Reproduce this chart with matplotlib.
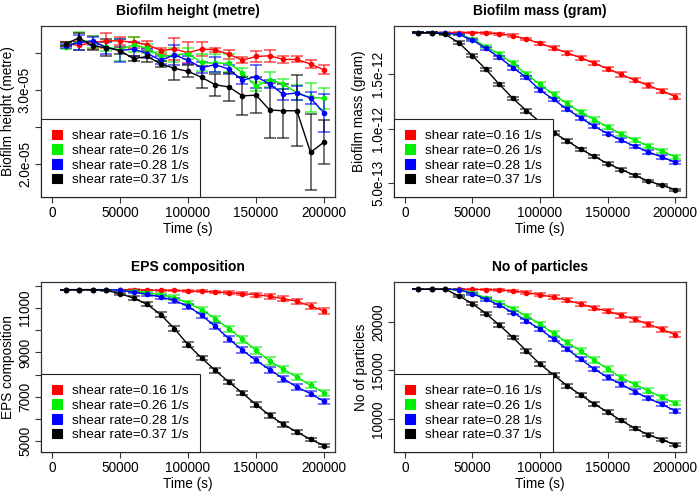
import matplotlib
matplotlib.use("Agg")
import matplotlib.pyplot as plt
from matplotlib.patches import Patch

plt.rcParams['font.family'] = ['Liberation Sans', 'DejaVu Sans']

time = [10000, 20000, 30000, 40000, 50000, 60000, 70000, 80000, 90000, 100000,
        110000, 120000, 130000, 140000, 150000, 160000, 170000, 180000, 190000, 200000]

labels = ['shear rate=0.16 1/s', 'shear rate=0.26 1/s',
          'shear rate=0.28 1/s', 'shear rate=0.37 1/s']
colors = ['#ff0000', '#00ee00', '#0000ff', '#000000']

# biofilm height, in units of 1e-05 metre
height_016 = [3.62, 3.60, 3.64, 3.66, 3.66, 3.64, 3.61, 3.53, 3.55, 3.50, 3.55, 3.54, 3.48, 3.40, 3.45, 3.46, 3.41, 3.41, 3.35, 3.27]
height_026 = [3.58, 3.66, 3.65, 3.58, 3.54, 3.61, 3.56, 3.45, 3.47, 3.49, 3.37, 3.36, 3.36, 3.23, 3.05, 3.14, 3.08, 2.96, 2.90, 2.89]
height_028 = [3.59, 3.64, 3.66, 3.57, 3.53, 3.55, 3.49, 3.40, 3.47, 3.40, 3.30, 3.34, 3.28, 3.13, 3.18, 3.08, 2.94, 2.96, 2.89, 2.69]
height_037 = [3.62, 3.70, 3.59, 3.57, 3.53, 3.42, 3.45, 3.35, 3.29, 3.25, 3.17, 3.07, 3.04, 2.92, 2.93, 2.73, 2.72, 2.72, 2.16, 2.30]
height_err_016 = [0.03, 0.06, 0.09, 0.10, 0.05, 0.07, 0.05, 0.04, 0.15, 0.14, 0.10, 0.03, 0.06, 0.04, 0.07, 0.08, 0.05, 0.04, 0.05, 0.06]
height_err_026 = [0.03, 0.12, 0.08, 0.06, 0.15, 0.10, 0.06, 0.06, 0.10, 0.07, 0.12, 0.12, 0.12, 0.06, 0.06, 0.10, 0.07, 0.10, 0.19, 0.14]
height_err_028 = [0.03, 0.10, 0.05, 0.08, 0.15, 0.10, 0.06, 0.05, 0.13, 0.05, 0.07, 0.10, 0.06, 0.05, 0.15, 0.06, 0.07, 0.09, 0.08, 0.25]
height_err_037 = [0.03, 0.06, 0.05, 0.12, 0.05, 0.03, 0.07, 0.04, 0.16, 0.08, 0.15, 0.15, 0.19, 0.26, 0.24, 0.37, 0.36, 0.48, 0.51, 0.30]

# biofilm mass, in units of 1e-12 gram
mass_016 = [1.880, 1.880, 1.880, 1.880, 1.880, 1.880, 1.871, 1.853, 1.822, 1.782, 1.739, 1.696, 1.650, 1.601, 1.549, 1.497, 1.445, 1.396, 1.347, 1.294]
mass_026 = [1.880, 1.880, 1.877, 1.865, 1.822, 1.752, 1.684, 1.598, 1.500, 1.405, 1.313, 1.230, 1.150, 1.083, 1.015, 0.948, 0.893, 0.840, 0.791, 0.742]
mass_028 = [1.880, 1.880, 1.877, 1.865, 1.813, 1.736, 1.653, 1.558, 1.469, 1.353, 1.267, 1.178, 1.098, 1.021, 0.954, 0.893, 0.837, 0.785, 0.739, 0.690]
mass_037 = [1.880, 1.880, 1.865, 1.788, 1.669, 1.543, 1.405, 1.276, 1.163, 1.061, 0.963, 0.887, 0.810, 0.745, 0.678, 0.623, 0.571, 0.518, 0.479, 0.439]
mass_err_016 = [0.003, 0.003, 0.003, 0.003, 0.006, 0.008, 0.010, 0.012, 0.013, 0.015, 0.016, 0.016, 0.017, 0.018, 0.018, 0.019, 0.019, 0.020, 0.020, 0.020]
mass_err_026 = [0.003, 0.003, 0.003, 0.006, 0.012, 0.015, 0.017, 0.018, 0.019, 0.020, 0.020, 0.020, 0.020, 0.020, 0.020, 0.020, 0.019, 0.019, 0.018, 0.018]
mass_err_028 = [0.003, 0.003, 0.003, 0.006, 0.012, 0.015, 0.016, 0.017, 0.018, 0.018, 0.018, 0.018, 0.018, 0.017, 0.017, 0.017, 0.016, 0.016, 0.015, 0.015]
mass_err_037 = [0.003, 0.003, 0.006, 0.012, 0.015, 0.016, 0.017, 0.018, 0.018, 0.018, 0.017, 0.016, 0.015, 0.014, 0.013, 0.012, 0.012, 0.011, 0.011, 0.010]

# EPS composition
eps_016 = [11825, 11825, 11825, 11825, 11825, 11825, 11810, 11795, 11795, 11765, 11750, 11720, 11690, 11645, 11600, 11525, 11420, 11300, 11090, 10865]
eps_026 = [11825, 11825, 11825, 11825, 11795, 11765, 11690, 11600, 11465, 11225, 10925, 10520, 10070, 9590, 9095, 8615, 8240, 7895, 7520, 7175]
eps_028 = [11825, 11825, 11825, 11825, 11795, 11720, 11615, 11495, 11345, 11075, 10670, 10175, 9620, 9095, 8645, 8225, 7820, 7445, 7145, 6800]
eps_037 = [11825, 11825, 11825, 11795, 11645, 11450, 11165, 10700, 10070, 9350, 8750, 8195, 7670, 7175, 6650, 6170, 5765, 5420, 5090, 4805]
eps_err_016 = [0, 0, 0, 0, 0, 10, 20, 30, 35, 40, 50, 60, 70, 80, 90, 100, 110, 120, 120, 120]
eps_err_026 = [0, 0, 0, 0, 20, 40, 60, 80, 100, 110, 120, 130, 140, 150, 160, 160, 160, 150, 140, 130]
eps_err_028 = [0, 0, 0, 0, 20, 40, 60, 80, 100, 110, 120, 130, 140, 140, 140, 140, 130, 130, 120, 110]
eps_err_037 = [0, 0, 0, 20, 50, 70, 90, 100, 110, 110, 110, 110, 110, 110, 110, 100, 100, 90, 80, 70]

# number of particles
part_016 = [23345, 23345, 23345, 23345, 23345, 23310, 23280, 23174, 23003, 22799, 22526, 22218, 21843, 21433, 21092, 20683, 20273, 19761, 19249, 18669]
part_026 = [23345, 23345, 23345, 23310, 23003, 22457, 21980, 21365, 20614, 19761, 18806, 17884, 16997, 16075, 15154, 14266, 13584, 12901, 12252, 11638]
part_028 = [23345, 23345, 23345, 23310, 22901, 22321, 21707, 20956, 20102, 19249, 18225, 17201, 16177, 15154, 14300, 13584, 12833, 12150, 11536, 10853]
part_037 = [23345, 23345, 23345, 22662, 21877, 20853, 19659, 18396, 16997, 15665, 14539, 13447, 12491, 11570, 10717, 9863, 9078, 8396, 7884, 7372]
part_err_016 = [0, 0, 0, 0, 30, 60, 90, 120, 150, 170, 190, 200, 210, 220, 230, 240, 250, 250, 250, 250]
part_err_026 = [0, 0, 0, 30, 90, 140, 180, 210, 230, 250, 260, 270, 270, 270, 270, 260, 260, 250, 240, 230]
part_err_028 = [0, 0, 0, 30, 90, 140, 170, 200, 220, 230, 240, 240, 240, 240, 230, 230, 220, 210, 200, 190]
part_err_037 = [0, 0, 0, 90, 140, 170, 190, 200, 210, 210, 210, 200, 200, 190, 180, 170, 160, 150, 140, 130]


def draw_panel(rect, title, ylabel, series, errs, scale, ylim, yticks, yticklabels, ylab_x):
    ax = fig.add_axes(rect)
    for vals, err, col in zip(series, errs, colors):
        y = [v * scale for v in vals]
        e = [v * scale for v in err]
        ax.plot(time, y, '-', color=col, lw=1.0, marker='o', ms=3, zorder=3)
        ax.errorbar(time, y, yerr=e, fmt='none', ecolor=col, alpha=0.65,
                    elinewidth=1.2, capsize=4.5, capthick=1.2, zorder=2)
    ax.set_xlim(-8000, 208000)
    ax.set_ylim(ylim[0] * scale, ylim[1] * scale)
    ax.set_xticks([0, 50000, 100000, 150000, 200000])
    ax.set_xticklabels(['0', '50000', '100000', '150000', '200000'])
    ax.set_yticks([t * scale for t in yticks])
    ax.set_yticklabels(yticklabels)
    for lbl in ax.get_yticklabels():
        lbl.set_rotation(90)
        lbl.set_va('center')
    ax.tick_params(length=4, width=0.8, pad=2.5, labelsize=9.8, color='#333333')
    for sp in ax.spines.values():
        sp.set_color('#333333')
        sp.set_linewidth(0.9)
    ax.set_title(title, fontsize=10, fontweight='bold', pad=8)
    ax.set_xlabel('Time (s)', fontsize=9.8)
    ax.xaxis.set_label_coords(0.5, -0.145)
    ax.set_ylabel(ylabel, fontsize=9.8)
    ax.yaxis.set_label_coords(ylab_x, 0.5)
    handles = [Patch(facecolor=c, edgecolor=c, linewidth=0.8) for c in colors]
    leg = ax.legend(handles, labels, loc='lower left', borderaxespad=0,
                    fontsize=9.7, frameon=True, fancybox=False, framealpha=1,
                    edgecolor='#222222', handlelength=0.75, handleheight=0.75,
                    handletextpad=0.75, labelspacing=0.15, borderpad=0.8)
    leg.get_frame().set_linewidth(0.8)
    return ax


fig = plt.figure(figsize=(7, 4.94), dpi=100)

draw_panel([41 / 700, 1 - 197 / 494, 294 / 700, 171 / 494], 'Biofilm height (metre)',
           'Biofilm height (metre)',
           [height_016, height_026, height_028, height_037],
           [height_err_016, height_err_026, height_err_028, height_err_037],
           1e-5, (1.56, 3.86), [2.0, 2.5, 3.0, 3.5], ['2.0e-05', '', '3.0e-05', ''], -0.088)

draw_panel([394 / 700, 1 - 197 / 494, 292 / 700, 171 / 494], 'Biofilm mass (gram)',
           'Biofilm mass (gram)',
           [mass_016, mass_026, mass_028, mass_037],
           [mass_err_016, mass_err_026, mass_err_028, mass_err_037],
           1e-12, (0.371, 1.942), [0.5, 1.0, 1.5], ['5.0e-13', '1.0e-12', '1.5e-12'], -0.096)

draw_panel([41 / 700, 1 - 452 / 494, 294 / 700, 170 / 494], 'EPS composition',
           'EPS composition',
           [eps_016, eps_026, eps_028, eps_037],
           [eps_err_016, eps_err_026, eps_err_028, eps_err_037],
           1, (4520, 12170), [5000, 6000, 7000, 8000, 9000, 10000, 11000, 12000],
           ['5000', '', '7000', '', '9000', '', '11000', ''], -0.09)

draw_panel([394 / 700, 1 - 452 / 494, 292 / 700, 170 / 494], 'No of particles',
           'No of particles',
           [part_016, part_026, part_028, part_037],
           [part_err_016, part_err_026, part_err_028, part_err_037],
           1, (6621, 24096), [10000, 15000, 20000], ['10000', '15000', '20000'], -0.089)

fig.savefig('out.png', dpi=100)
